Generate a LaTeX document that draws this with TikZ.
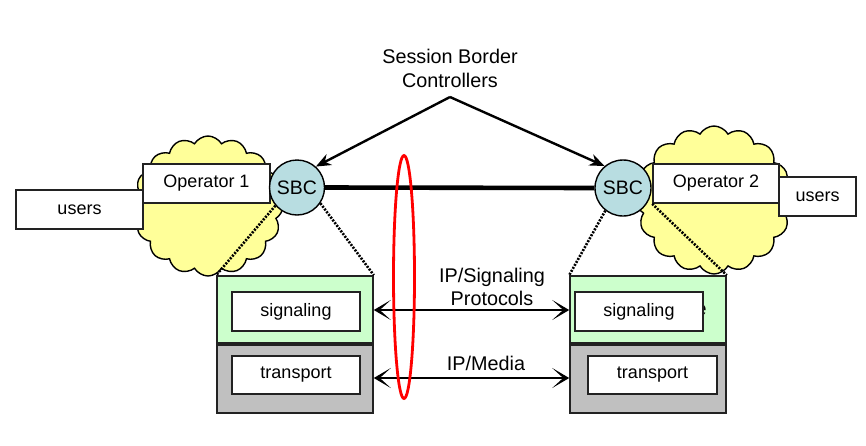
\documentclass[tikz,border=0pt]{standalone}
\usepackage{fontspec}
\setmainfont{Liberation Sans}
\usetikzlibrary{shapes.symbols,arrows.meta}
\definecolor{cloudy}{HTML}{FFFF99}
\definecolor{sbcblue}{HTML}{B8DDE1}
\definecolor{siggreen}{HTML}{CCFFCC}
\definecolor{trgray}{HTML}{C0C0C0}
\definecolor{edge}{HTML}{222222}
\tikzset{
  lbl/.style={font=\fontsize{19.8}{23}\selectfont, inner sep=0pt},
  cloudnode/.style={cloud, cloud puffs=16, cloud puff arc=120, draw=black, line width=1.4pt, fill=cloudy, inner sep=0pt},
  whitebox/.style={draw=edge, line width=1.6pt, fill=white, font=\fontsize{18}{22}\selectfont, inner sep=0pt, minimum height=39pt},
  innerbox/.style={draw=edge, line width=2pt, fill=white, font=\fontsize{18}{22}\selectfont, inner sep=0pt, minimum width=128pt},
  layerbox/.style={draw=edge, line width=1.6pt, inner sep=0pt, minimum width=156pt, minimum height=67pt},
  sbcnode/.style={circle, draw=black, line width=1.4pt, fill=sbcblue, minimum size=55pt, inner sep=0pt, font=\fontsize{19.5}{22}\selectfont},
  dotline/.style={line width=2.6pt, dash pattern=on 2pt off 1.4pt},
  callout/.style={line width=2.4pt, -{Stealth[length=15pt,width=12pt]}},
  dblarrow/.style={line width=2.4pt, {Stealth[length=17pt,width=20pt,inset=11pt]}-{Stealth[length=17pt,width=20pt,inset=11pt]}}
}
\begin{document}
\begin{tikzpicture}[x=1pt,y=-1pt]
\useasboundingbox (0,0) rectangle (866,445);
% clouds
\node[cloudnode, minimum width=150pt, minimum height=140pt] (cloud1) at (208,206) {};
\node[cloudnode, minimum width=156pt, minimum height=148pt] (cloud2) at (714,200) {};
% users and operators
\node[whitebox, minimum width=127pt] (users1) at (79.5,209.5) {users};
\node[whitebox, minimum width=127pt] (op1) at (206.5,183.5) {Operator 1};
\node[whitebox, minimum width=126pt] (op2) at (716,183.5) {Operator 2};
\node[whitebox, minimum width=77pt] (users2) at (817.5,196.5) {users};
% SBCs
\node[sbcnode] (sbc1) at (297,187.5) {SBC};
\node[sbcnode, minimum size=56pt] (sbc2) at (623,188) {SBC};
\draw[line width=4.6pt] (sbc1.east) -- (sbc2.west);
% label and callouts
\node[lbl, align=center] (sbclabel) at (450,68) {Session Border\\[1pt]Controllers};
\coordinate (apex) at (450,97);
\draw[callout] (apex) -- (sbc1.48);
\draw[callout] (apex) -- (sbc2.130);
% layer boxes
\node[layerbox, fill=siggreen] (greenL) at (295,309.5) {};
\node[layerbox, fill=trgray, minimum height=68pt] (grayL) at (295,379) {};
\node[layerbox, fill=siggreen] (greenR) at (648,309.5) {};
\node[layerbox, fill=trgray, minimum height=68pt] (grayR) at (648,379) {};
\node[lbl] (stray) at (701,310) {e};
\node[innerbox, minimum height=39pt] (sigL) at (296,311.5) {signaling};
\node[innerbox, minimum height=38pt] (trL) at (296,375) {transport};
\node[innerbox, minimum height=39pt] (sigR) at (639,311.5) {signaling};
\node[innerbox, minimum height=38pt, minimum width=129pt] (trR) at (652.5,375) {transport};
% dotted zoom lines
\draw[dotline] (sbc1.220) -- (greenL.north west);
\draw[dotline] (sbc1.-34) -- (greenL.north east);
\draw[dotline] (sbc2.-128) -- (greenR.north west);
\draw[dotline] (op2.south west) -- (greenR.north east);
% protocol arrows
\draw[dblarrow] (greenL.east |- 0,310) -- (greenR.west |- 0,310);
\draw[dblarrow] (grayL.east |- 0,378) -- (grayR.west |- 0,378);
\node[lbl, align=center] (siglabel) at (492,287) {IP/Signaling\\[0pt]Protocols};
\node[lbl] (medialabel) at (486,363) {IP/Media};
% red ellipse
\draw[red, line width=2.8pt] (404,277) ellipse [x radius=10.5, y radius=121.5];
\end{tikzpicture}
\end{document}
